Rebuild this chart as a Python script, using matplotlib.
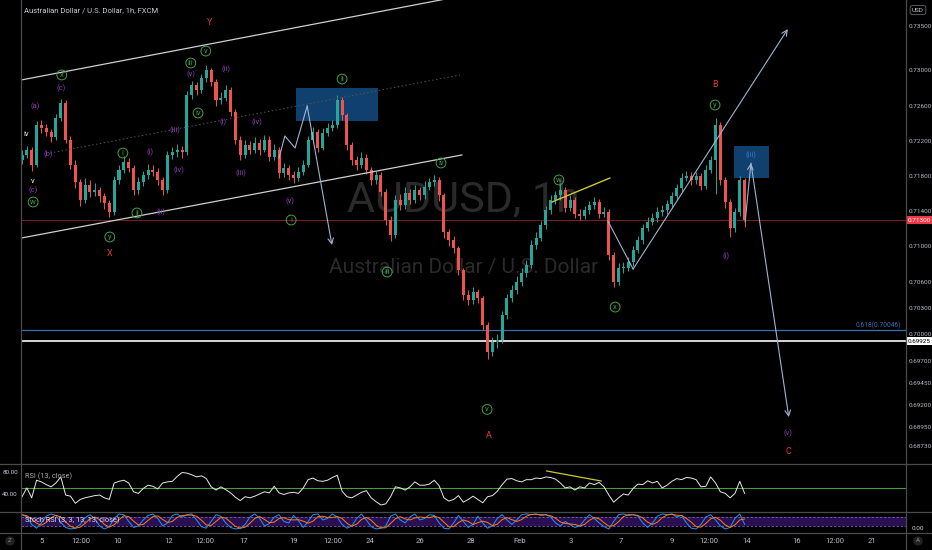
import matplotlib
matplotlib.use('Agg')
import matplotlib.pyplot as plt
from matplotlib.patches import Rectangle
from matplotlib.lines import Line2D
import numpy as np

plt.rcParams['font.family'] = ['Roboto', 'DejaVu Sans']

# ---------------- data ----------------
first_open = 0.7198
closes = [
0.7204,0.7210,0.7193,0.7238,0.7235,0.7230,0.7224,0.7246,0.7263,0.7221,
0.7193,0.7173,0.7153,0.7170,0.7162,0.7164,0.7157,0.7149,0.7139,0.7175,
0.7187,0.7196,0.7189,0.7164,0.7173,0.7181,0.7187,0.7185,0.7175,0.7164,
0.7204,0.7207,0.7210,0.7207,0.7272,0.7283,0.7278,0.7291,0.7300,0.7287,
0.7266,0.7269,0.7278,0.7253,0.7221,0.7204,0.7215,0.7210,0.7218,0.7210,
0.7221,0.7202,0.7210,0.7183,0.7189,0.7181,0.7178,0.7185,0.7193,0.7221,
0.7230,0.7212,0.7229,0.7235,0.7238,0.7266,0.7249,0.7215,0.7198,0.7193,
0.7201,0.7187,0.7175,0.7181,0.7162,0.7130,0.7113,0.7153,0.7147,0.7161,
0.7153,0.7164,0.7158,0.7168,0.7173,0.7175,0.7158,0.7116,0.7107,0.7098,
0.7073,0.7045,0.7039,0.7048,0.7041,0.7011,0.6980,0.6991,0.6994,0.7022,
0.7041,0.7050,0.7060,0.7070,0.7079,0.7102,0.7110,0.7124,0.7141,0.7153,
0.7158,0.7164,0.7144,0.7153,0.7137,0.7135,0.7141,0.7147,0.7150,0.7137,
0.7139,0.7090,0.7060,0.7076,0.7076,0.7082,0.7096,0.7107,0.7121,0.7128,
0.7132,0.7139,0.7141,0.7148,0.7157,0.7166,0.7178,0.7180,0.7175,0.7180,
0.7169,0.7187,0.7198,0.7238,0.7175,0.7150,0.7121,0.7139,0.7175,0.7130,
]
highs = [
.7209,.7214,.7213,.7243,.7244,.7239,.7233,.7251,.7268,.7266,
.7225,.7198,.7177,.7178,.7175,.7172,.7168,.7161,.7153,.7180,
.7192,.7203,.7201,.7193,.7179,.7186,.7194,.7193,.7189,.7179,
.7208,.7213,.7216,.7214,.7277,.7288,.7287,.7296,.7306,.7303,
.7290,.7275,.7283,.7281,.7256,.7225,.7221,.7220,.7224,.7222,
.7227,.7225,.7216,.7213,.7195,.7193,.7186,.7190,.7198,.7226,
.7236,.7233,.7234,.7240,.7244,.7272,.7270,.7252,.7219,.7203,
.7207,.7205,.7190,.7186,.7184,.7165,.7134,.7158,.7160,.7167,
.7165,.7170,.7168,.7174,.7178,.7181,.7179,.7161,.7120,.7112,
.7101,.7076,.7050,.7054,.7052,.7044,.7014,.6997,.7000,.7027,
.7046,.7056,.7066,.7075,.7085,.7107,.7116,.7129,.7146,.7158,
.7163,.7172,.7167,.7158,.7156,.7142,.7146,.7152,.7156,.7154,
.7145,.7142,.7094,.7081,.7082,.7088,.7101,.7112,.7126,.7133,
.7138,.7145,.7147,.7153,.7162,.7171,.7183,.7186,.7184,.7185,
.7183,.7192,.7203,.7246,.7241,.7179,.7154,.7144,.7180,.7178,
]
lows = [
.7194,.7200,.7186,.7190,.7229,.7226,.7219,.7221,.7242,.7217,
.7188,.7166,.7146,.7149,.7156,.7157,.7151,.7142,.7133,.7136,
.7171,.7183,.7184,.7158,.7160,.7169,.7177,.7180,.7170,.7158,
.7161,.7199,.7202,.7201,.7204,.7268,.7272,.7274,.7287,.7282,
.7260,.7262,.7265,.7248,.7216,.7198,.7200,.7205,.7206,.7204,
.7207,.7197,.7198,.7178,.7179,.7176,.7172,.7174,.7181,.7190,
.7217,.7207,.7209,.7225,.7231,.7234,.7244,.7210,.7193,.7187,
.7189,.7182,.7170,.7171,.7157,.7124,.7106,.7110,.7141,.7143,
.7148,.7149,.7153,.7154,.7164,.7169,.7152,.7110,.7101,.7092,
.7067,.7039,.7033,.7035,.7036,.7005,.6972,.6975,.6985,.6990,
.7018,.7037,.7046,.7055,.7065,.7075,.7097,.7106,.7120,.7137,
.7148,.7153,.7139,.7140,.7132,.7130,.7131,.7137,.7143,.7132,
.7133,.7084,.7054,.7056,.7070,.7072,.7078,.7092,.7103,.7117,
.7124,.7128,.7135,.7137,.7144,.7153,.7162,.7174,.7170,.7171,
.7164,.7165,.7183,.7160,.7170,.7144,.7111,.7116,.7135,.7122,
]
rsi = [
35,51,33,65,62,57,53,60,71,38,
36,23,30,33,35,37,38,33,30,60,
63,65,60,44,41,50,56,54,49,60,
62,63,72,79,78,75,71,73,68,53,
47,53,48,42,34,28,35,33,36,40,
44,42,54,42,39,42,43,41,51,66,
69,64,63,65,70,74,45,35,33,38,
43,46,33,26,20,22,35,53,51,47,
53,62,56,56,58,65,55,33,27,30,
37,25,30,36,30,24,35,37,45,57,
67,68,64,62,66,66,69,68,71,70,
67,60,51,53,47,53,51,60,57,61,
53,38,25,33,40,38,50,58,57,64,
60,63,51,56,63,68,66,70,69,66,
53,54,71,60,44,41,33,41,63,41,
]
stoch_k = [
95,80,30,5,40,85,100,90,45,10,
0,5,30,75,95,70,20,0,15,70,
100,95,50,10,20,60,90,100,70,20,
40,90,100,80,95,100,60,15,5,50,
95,85,40,10,0,5,30,80,100,70,
20,35,80,95,50,40,90,55,10,50,
95,100,60,70,100,80,30,5,20,70,
100,60,15,0,5,20,85,100,60,40,
80,100,60,70,95,90,40,5,0,40,
90,50,10,30,85,40,5,20,70,95,
60,30,60,95,100,95,100,90,95,80,
40,20,50,30,10,20,60,95,70,40,
15,0,50,95,100,90,95,85,40,10,
40,85,100,95,100,80,90,40,5,0,
30,80,95,60,20,0,10,70,100,30,
]
stoch_d = [
95,88,68,38,25,43,75,92,78,48,
18,5,12,37,67,80,62,30,12,28,
62,88,82,52,27,30,57,83,87,63,
43,50,77,90,92,92,85,58,27,23,
50,77,73,45,17,5,12,38,70,83,
63,42,45,70,75,62,60,62,52,38,
52,82,85,77,77,83,70,38,18,32,
63,77,58,25,7,8,37,68,82,67,
60,73,80,77,75,85,75,45,15,15,
43,60,50,30,42,52,43,22,32,62,
75,62,50,62,85,97,98,95,95,88,
72,47,37,33,30,20,30,58,75,68,
42,18,22,48,82,95,95,90,73,45,
30,45,75,93,98,92,90,70,45,15,
12,37,68,78,58,27,10,27,60,67,
]
time_labels = ["5", "12:00", "10", "12", "12:00", "17", "19", "12:00", "24", "26",
               "28", "Feb", "3", "7", "9", "12:00", "14", "16", "12:00", "21"]
time_pos = [4.1, 12.2, 19.8, 30.3, 37.7, 45.8, 56.1, 64.1, 71.8, 82.1,
            92.6, 102.7, 113.2, 123.5, 134.0, 141.6, 149.5, 159.8, 167.6, 175.3]
price_ticks = [0.73500, 0.73000, 0.72600, 0.72200, 0.71800, 0.71400, 0.71000,
               0.70600, 0.70300, 0.70000, 0.69700, 0.69450, 0.69200, 0.68950, 0.68730]
fib_level = 0.70046
hline_level = 0.69925

# wave labels: text, bar index, price, style
wave_labels = [
    ("(a)", 2.7, 0.72595, 'p'), ("iv", 0.8, 0.72277, 'w'), ("(b)", 5.4, 0.72050, 'p'),
    ("v", 2.3, 0.71740, 'w'), ("(c)", 2.3, 0.71641, 'p'), ("w", 2.3, 0.71505, 'g'),
    ("(c)", 8.0, 0.72800, 'p'), ("x", 8.2, 0.72948, 'g'),
    ("y", 18.1, 0.71107, 'g'), ("X", 18.1, 0.70914, 'r'),
    ("i", 20.8, 0.72061, 'g'), ("(i)", 26.4, 0.72073, 'p'), ("ii", 23.7, 0.71380, 'g'),
    ("(ii)", 28.7, 0.71391, 'p'), ("(iii)", 31.5, 0.72323, 'p'), ("(iv)", 32.4, 0.71868, 'p'),
    ("iii", 34.8, 0.73084, 'g'), ("(v)", 34.8, 0.72959, 'p'), ("v", 37.9, 0.73220, 'g'),
    ("Y", 38.6, 0.73550, 'r'), ("(ii)", 42.1, 0.73016, 'p'), ("iv", 36.3, 0.72516, 'g'),
    ("(i)", 41.4, 0.72414, 'p'), ("(iv)", 48.5, 0.72414, 'p'), ("(iii)", 45.2, 0.71834, 'p'),
    ("(v)", 55.3, 0.71516, 'p'), ("i", 55.5, 0.71300, 'g'), ("ii", 66.0, 0.72902, 'g'),
    ("iii", 75.3, 0.70709, 'g'), ("iv", 86.4, 0.71948, 'g'), ("v", 95.9, 0.69148, 'g'),
    ("A", 96.3, 0.68852, 'r'), ("w", 110.7, 0.71755, 'g'), ("x", 122.3, 0.70311, 'g'),
    ("B", 142.9, 0.72845, 'r'), ("y", 142.9, 0.72607, 'g'), ("(i)", 145.2, 0.70891, 'p'),
    ("(iii)", 150.3, 0.72039, 'b'), ("(v)", 157.9, 0.68880, 'p'), ("C", 158.1, 0.68675, 'r'),
]

# ---------------- figure ----------------
W, H = 932, 550
BG = '#000000'
fig = plt.figure(figsize=(9.32, 5.5), dpi=100, facecolor=BG)

def rect(l, t, r, b):
    return [l / W, 1 - b / H, (r - l) / W, (b - t) / H]

def fx(x):
    return x / W

def fy(y):
    return 1 - y / H

ax = fig.add_axes(rect(21, 0, 906, 463))
axr = fig.add_axes(rect(21, 465, 906, 512), sharex=ax)
axs = fig.add_axes(rect(21, 512, 906, 533), sharex=ax)
for a in (ax, axr, axs):
    a.set_facecolor(BG)
    for sp in a.spines.values():
        sp.set_visible(False)
    a.tick_params(length=0)

XMIN, XMAX = -0.206, 182.27
ax.set_xlim(XMIN, XMAX)
ax.set_ylim(0.68539, 0.73800)

idx = np.arange(len(closes))
opens = np.array([first_open] + closes[:-1])
c = np.array(closes)
up = c >= opens
UPC, DNC = '#26a69a', '#ef5350'
cols = [UPC if u else DNC for u in up]
bottoms = np.minimum(opens, c)
heights = np.maximum(np.abs(c - opens), 0.00004)

# watermark
ax.text(0.5, 0.568, 'AUDUSD, 1h', transform=ax.transAxes, ha='center', va='center',
        fontsize=31, color='#2a2a2a', zorder=0)
ax.text(0.5, 0.423, 'Australian Dollar / U.S. Dollar', transform=ax.transAxes,
        ha='center', va='center', fontsize=15, color='#2a2a2a', zorder=0)

# boxes
ax.add_patch(Rectangle((56.5, 0.72425), 16.9, 0.00375, fc='#10406e', ec='none', zorder=1.5))
ax.add_patch(Rectangle((146.8, 0.71777), 7.2, 0.00364, fc='#10406e', ec='none', zorder=1.5))

# horizontal levels
ax.axhline(fib_level, color='#3d6fb0', lw=0.9, zorder=2)
ax.axhline(hline_level, color='#e8e8e8', lw=1.3, zorder=2)
ax.axhline(closes[-1], color='#7a1e22', lw=0.7, zorder=2)

# candles
ax.vlines(idx, lows, highs, colors=cols, lw=0.7, zorder=3)
ax.bar(idx, heights, bottom=bottoms, width=0.62, color=cols, linewidth=0, zorder=4)

# channel / trend lines
ax.plot([-0.2, 92.0], [0.72891, 0.73860], color='#cfcfcf', lw=0.9, zorder=5)
ax.plot([-0.2, 90.7], [0.71095, 0.72039], color='#cfcfcf', lw=0.9, zorder=5)
ax.plot([5.8, 90.3], [0.72061, 0.72948], color='#555555', lw=0.7, ls=(0, (1.5, 2.5)), zorder=5)
ax.plot([109.3, 121.2], [0.71505, 0.71777], color='#c9c93a', lw=1.0, zorder=5)

ARC = '#9fb3cf'
def polyarrow(xs, ys):
    ax.plot(xs[:-1], ys[:-1], color=ARC, lw=0.8, zorder=5)
    ax.annotate('', xy=(xs[-1], ys[-1]), xytext=(xs[-2], ys[-2]),
                arrowprops=dict(arrowstyle='->', color=ARC, lw=0.8, shrinkA=0, shrinkB=0),
                zorder=5)

polyarrow([53.0, 54.2, 56.3, 58.8, 63.9], [0.72005, 0.72255, 0.72118, 0.72595, 0.71016])
polyarrow([120.8, 126.0, 157.9], [0.71289, 0.70743, 0.73470])
ax.annotate('', xy=(150.3, 0.71948), xytext=(149.1, 0.71277),
            arrowprops=dict(arrowstyle='->', color=ARC, lw=0.8, shrinkA=0, shrinkB=0), zorder=5)
polyarrow([150.3, 158.1], [0.71948, 0.69061])

# wave labels
STY = {'g': '#43a047', 'p': '#8e3db5', 'r': '#e53935', 'w': '#f0f0f0', 'b': '#3b78c9'}
for t, xi, p, s in wave_labels:
    kw = dict(ha='center', va='center', fontsize=5.5, color=STY[s], zorder=7)
    if s == 'g':
        kw['bbox'] = dict(boxstyle='circle,pad=0.25', fc='none', ec=STY[s], lw=0.7)
    elif s == 'r':
        kw['fontsize'] = 6.5
    ax.text(xi, p, t, **kw)

# right price axis
ax.yaxis.tick_right()
ax.set_yticks(price_ticks)
ax.set_yticklabels([f'{v:.5f}' for v in price_ticks])
ax.tick_params(axis='y', labelsize=4.6, labelcolor='#b8bcc6', pad=1.8)
ax.tick_params(axis='x', labelbottom=False)
ytr = ax.get_yaxis_transform()
ax.text(1.002, closes[-1], f'{closes[-1]:.5f}', transform=ytr, ha='left', va='center',
        fontsize=4.6, color='white', clip_on=False, zorder=10,
        bbox=dict(boxstyle='square,pad=0.22', fc='#f23645', ec='none'))
ax.text(1.002, hline_level, f'{hline_level:.5f}', transform=ytr, ha='left', va='center',
        fontsize=4.6, color='black', clip_on=False, zorder=10,
        bbox=dict(boxstyle='square,pad=0.22', fc='white', ec='none'))
ax.text(0.995, fib_level + 0.0001, f'0.618({fib_level:.5f})', transform=ytr, ha='right',
        va='bottom', fontsize=4.8, color='#3d6fb0', zorder=6)

# RSI panel
axr.set_ylim(7.2, 92.7)
axr.axhline(50, color='#4b9a3e', lw=0.8)
axr.plot(idx, rsi, color='#e8e8e8', lw=0.7)
axr.plot([108.2, 119.4], [81.8, 63.6], color='#c9c93a', lw=0.9)
axr.set_yticks([])
axr.tick_params(axis='x', labelbottom=False)

# Stoch RSI panel
axs.set_ylim(-27, 113)
axs.axhspan(20, 80, color='#2a1052', lw=0)
axs.axhline(80, color='#7b5bb0', lw=0.6, ls=(0, (3, 2)))
axs.axhline(20, color='#7b5bb0', lw=0.6, ls=(0, (3, 2)))
axs.plot(idx, stoch_k, color='#2196f3', lw=0.7)
axs.plot(idx, stoch_d, color='#ff7a1a', lw=0.7)
axs.set_yticks([])
axs.set_xticks(time_pos)
axs.set_xticklabels(time_labels)
axs.tick_params(axis='x', labelsize=5.5, labelcolor='#b8bcc6', pad=3.5)
ax.set_xlim(XMIN, XMAX)

# separators
SEP = '#4a4a4a'
for yy in (464, 512, 533):
    fig.add_artist(Line2D([0, 1], [fy(yy), fy(yy)], transform=fig.transFigure, color=SEP, lw=0.9))
for xx in (21, 906):
    fig.add_artist(Line2D([fx(xx), fx(xx)], [0, 1], transform=fig.transFigure, color=SEP, lw=0.9))

# texts outside axes
TXT = '#c8ccd4'
fig.text(fx(24), fy(10), 'Australian Dollar / U.S. Dollar, 1h, FXCM', fontsize=5.5,
         color=TXT, va='center', ha='left')
fig.text(fx(918), fy(10), 'USD', fontsize=4.6, color=TXT, ha='center', va='center',
         bbox=dict(boxstyle='round,pad=0.3', fc='none', ec='#666666', lw=0.6))
fig.text(fx(10), fy(472), '80.00', fontsize=4.5, color=TXT, ha='center', va='center')
fig.text(fx(10), fy(494), '40.00', fontsize=4.5, color=TXT, ha='center', va='center')
fig.text(fx(25), fy(476), 'RSI (13, close)', fontsize=5.3, color='#aaaaaa', ha='left', va='center')
fig.text(fx(25), fy(520), 'Stoch RSI (3, 3, 13, 13, close)', fontsize=5.3, color='#dddddd',
         ha='left', va='center')
fig.text(fx(918), fy(529), '0.00', fontsize=4.6, color=TXT, ha='center', va='center')
fig.text(fx(10), fy(541), 'Z', fontsize=4.5, color='#888888', ha='center', va='center',
         bbox=dict(boxstyle='circle,pad=0.35', fc='#222222', ec='none'))
fig.text(fx(918), fy(541), 'A', fontsize=4.5, color='#888888', ha='center', va='center',
         bbox=dict(boxstyle='circle,pad=0.35', fc='#222222', ec='none'))

fig.savefig('out.png', dpi=100, facecolor=BG)
